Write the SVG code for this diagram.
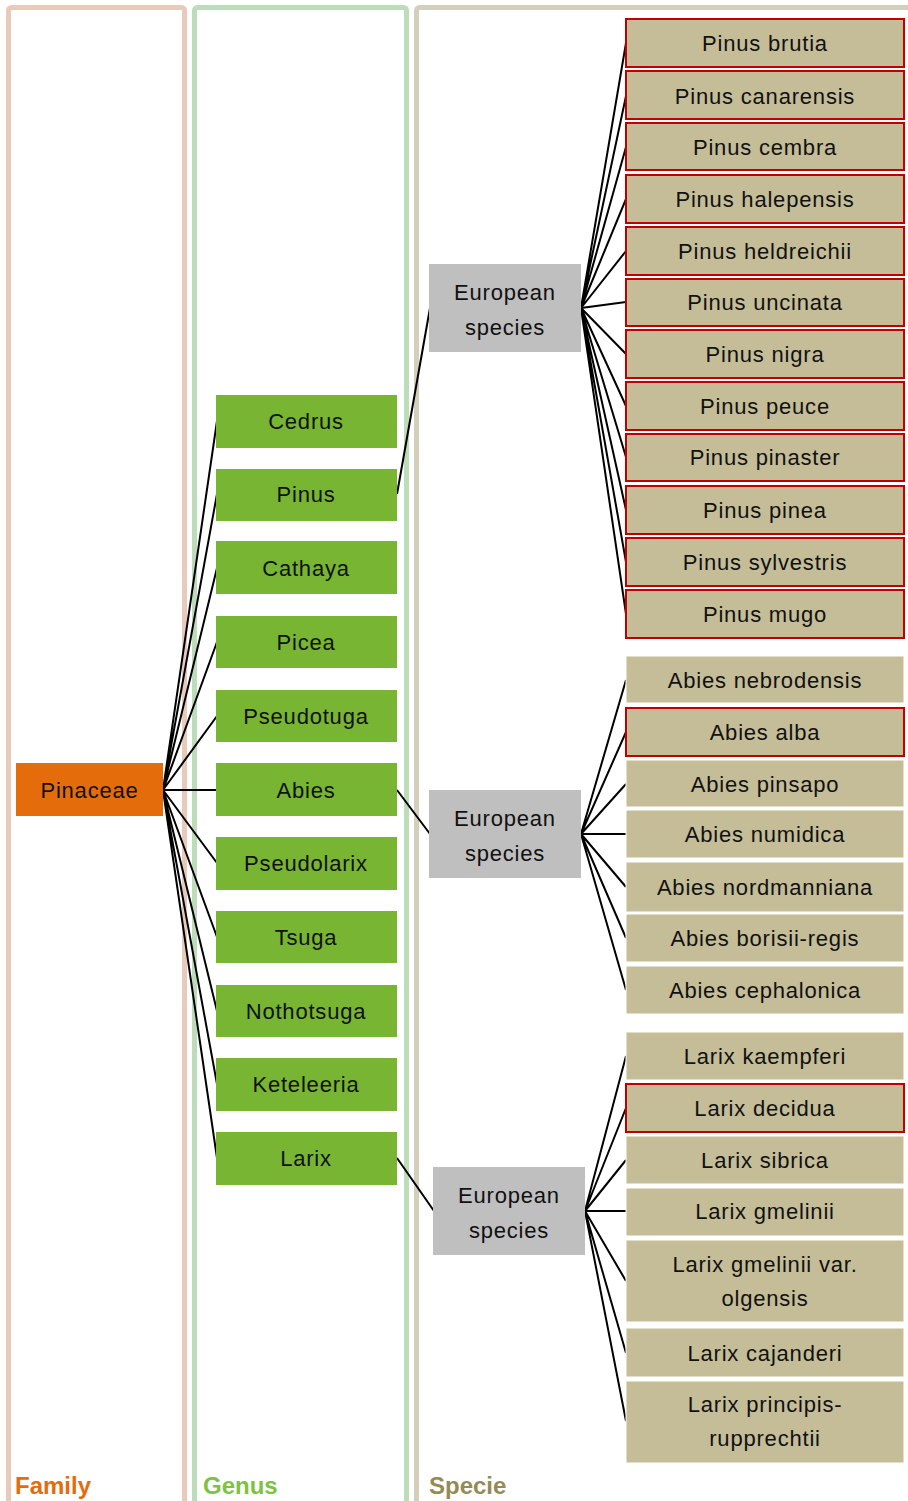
<svg xmlns="http://www.w3.org/2000/svg" width="908" height="1501" viewBox="0 0 908 1501">
<style>
.t{font-family:"Liberation Sans",Arial,sans-serif;font-size:22px;fill:#111;text-anchor:middle;letter-spacing:0.8px}
.fam{fill:#e46c0a}
.gen{fill:#77b533}
.eu{fill:#bfbfbf}
.sp{fill:#c4bd97;stroke:#fff;stroke-width:1}
.spr{fill:#c4bd97;stroke:#c00000;stroke-width:2}
.c{stroke:#000;stroke-width:2;fill:none}
.lbl{font-family:"Liberation Sans",Arial,sans-serif;font-size:24px;font-weight:bold}
</style>
<rect width="908" height="1501" fill="#fff"/>
<g id="frames" fill="none" stroke-width="5">
<rect x="8.5" y="7.5" width="176" height="1510" rx="3" stroke="#e9c9ba"/>
<rect x="194.5" y="7.5" width="212" height="1510" rx="3" stroke="#bcdcba"/>
<rect x="416.5" y="7.5" width="520" height="1510" rx="3" stroke="#d3cfbc"/>
</g>
<g id="connectors" class="c">
<path d="M163 790L217 421M163 790L217 494M163 790L217 568M163 790L217 642M163 790L217 716M163 790L217 790M163 790L217 863M163 790L217 937M163 790L217 1011M163 790L217 1084M163 790L217 1158"/>
<path d="M397 494L430 308M397 790L430 834M397 1158L434 1211"/>
<path d="M581 308L626 43M581 308L626 96M581 308L626 147M581 308L626 199M581 308L626 251M581 308L626 302M581 308L626 354M581 308L626 406M581 308L626 457M581 308L626 510M581 308L626 562M581 308L626 614"/>
<path d="M581 834L626 680M581 834L626 732M581 834L626 784M581 834L626 834M581 834L626 887M581 834L626 938M581 834L626 990"/>
<path d="M585 1211L626 1056M585 1211L626 1108M585 1211L626 1160M585 1211L626 1211M585 1211L626 1281M585 1211L626 1353M585 1211L626 1421"/>
</g>
<g id="pinaceae"><rect class="fam" x="16" y="763" width="147" height="53"/><text class="t" x="89.5" y="798">Pinaceae</text></g>
<g id="cedrus"><rect class="gen" x="216" y="395" width="181" height="53"/><text class="t" x="306" y="429">Cedrus</text></g>
<g id="pinus"><rect class="gen" x="216" y="469" width="181" height="52"/><text class="t" x="306" y="502">Pinus</text></g>
<g id="cathaya"><rect class="gen" x="216" y="541" width="181" height="53"/><text class="t" x="306" y="576">Cathaya</text></g>
<g id="picea"><rect class="gen" x="216" y="616" width="181" height="52"/><text class="t" x="306" y="650">Picea</text></g>
<g id="pseudotuga"><rect class="gen" x="216" y="690" width="181" height="52"/><text class="t" x="306" y="724">Pseudotuga</text></g>
<g id="abies"><rect class="gen" x="216" y="763" width="181" height="53"/><text class="t" x="306" y="798">Abies</text></g>
<g id="pseudolarix"><rect class="gen" x="216" y="837" width="181" height="53"/><text class="t" x="306" y="871">Pseudolarix</text></g>
<g id="tsuga"><rect class="gen" x="216" y="911" width="181" height="52"/><text class="t" x="306" y="945">Tsuga</text></g>
<g id="nothotsuga"><rect class="gen" x="216" y="985" width="181" height="52"/><text class="t" x="306" y="1019">Nothotsuga</text></g>
<g id="keteleeria"><rect class="gen" x="216" y="1058" width="181" height="53"/><text class="t" x="306" y="1092">Keteleeria</text></g>
<g id="larix"><rect class="gen" x="216" y="1132" width="181" height="53"/><text class="t" x="306" y="1166">Larix</text></g>
<g id="eu-pinus"><rect class="eu" x="429" y="264" width="152" height="88"/><text class="t" x="505" y="300">European</text><text class="t" x="505" y="335">species</text></g>
<g id="eu-abies"><rect class="eu" x="429" y="790" width="152" height="88"/><text class="t" x="505" y="826">European</text><text class="t" x="505" y="861">species</text></g>
<g id="eu-larix"><rect class="eu" x="433" y="1167" width="152" height="88"/><text class="t" x="509" y="1203">European</text><text class="t" x="509" y="1238">species</text></g>
<g id="p-brutia"><rect class="spr" x="626" y="19" width="278" height="48"/><text class="t" x="765" y="51">Pinus brutia</text></g>
<g id="p-canarensis"><rect class="spr" x="626" y="71" width="278" height="48"/><text class="t" x="765" y="104">Pinus canarensis</text></g>
<g id="p-cembra"><rect class="spr" x="626" y="123" width="278" height="47"/><text class="t" x="765" y="155">Pinus cembra</text></g>
<g id="p-halepensis"><rect class="spr" x="626" y="175" width="278" height="48"/><text class="t" x="765" y="207">Pinus halepensis</text></g>
<g id="p-heldreichii"><rect class="spr" x="626" y="227" width="278" height="48"/><text class="t" x="765" y="259">Pinus heldreichii</text></g>
<g id="p-uncinata"><rect class="spr" x="626" y="279" width="278" height="47"/><text class="t" x="765" y="310">Pinus uncinata</text></g>
<g id="p-nigra"><rect class="spr" x="626" y="330" width="278" height="48"/><text class="t" x="765" y="362">Pinus nigra</text></g>
<g id="p-peuce"><rect class="spr" x="626" y="382" width="278" height="48"/><text class="t" x="765" y="414">Pinus peuce</text></g>
<g id="p-pinaster"><rect class="spr" x="626" y="434" width="278" height="47"/><text class="t" x="765" y="465">Pinus pinaster</text></g>
<g id="p-pinea"><rect class="spr" x="626" y="486" width="278" height="48"/><text class="t" x="765" y="518">Pinus pinea</text></g>
<g id="p-sylvestris"><rect class="spr" x="626" y="538" width="278" height="48"/><text class="t" x="765" y="570">Pinus sylvestris</text></g>
<g id="p-mugo"><rect class="spr" x="626" y="590" width="278" height="48"/><text class="t" x="765" y="622">Pinus mugo</text></g>
<g id="a-nebrodensis"><rect class="sp" x="626" y="656" width="278" height="47"/><text class="t" x="765" y="688">Abies nebrodensis</text></g>
<g id="a-alba"><rect class="spr" x="626" y="708" width="278" height="48"/><text class="t" x="765" y="740">Abies alba</text></g>
<g id="a-pinsapo"><rect class="sp" x="626" y="760" width="278" height="47"/><text class="t" x="765" y="792">Abies pinsapo</text></g>
<g id="a-numidica"><rect class="sp" x="626" y="810" width="278" height="48"/><text class="t" x="765" y="842">Abies numidica</text></g>
<g id="a-nordmanniana"><rect class="sp" x="626" y="862" width="278" height="50"/><text class="t" x="765" y="895">Abies nordmanniana</text></g>
<g id="a-borisii-regis"><rect class="sp" x="626" y="914" width="278" height="48"/><text class="t" x="765" y="946">Abies borisii-regis</text></g>
<g id="a-cephalonica"><rect class="sp" x="626" y="966" width="278" height="48"/><text class="t" x="765" y="998">Abies cephalonica</text></g>
<g id="l-kaempferi"><rect class="sp" x="626" y="1032" width="278" height="48"/><text class="t" x="765" y="1064">Larix kaempferi</text></g>
<g id="l-decidua"><rect class="spr" x="626" y="1084" width="278" height="48"/><text class="t" x="765" y="1116">Larix decidua</text></g>
<g id="l-sibrica"><rect class="sp" x="626" y="1136" width="278" height="48"/><text class="t" x="765" y="1168">Larix sibrica</text></g>
<g id="l-gmelinii"><rect class="sp" x="626" y="1188" width="278" height="48"/><text class="t" x="765" y="1219">Larix gmelinii</text></g>
<g id="l-olgensis"><rect class="sp" x="626" y="1240" width="278" height="82"/><text class="t" x="765" y="1272">Larix gmelinii var.</text><text class="t" x="765" y="1306">olgensis</text></g>
<g id="l-cajanderi"><rect class="sp" x="626" y="1328" width="278" height="49"/><text class="t" x="765" y="1361">Larix cajanderi</text></g>
<g id="l-principis"><rect class="sp" x="626" y="1381" width="278" height="82"/><text class="t" x="765" y="1412">Larix principis-</text><text class="t" x="765" y="1446">rupprechtii</text></g>
<g id="labels">
<text class="lbl" x="15" y="1494" fill="#e46c0a">Family</text>
<text class="lbl" x="203" y="1494" fill="#7dc242">Genus</text>
<text class="lbl" x="429" y="1494" fill="#948a54">Specie</text>
</g>
</svg>
